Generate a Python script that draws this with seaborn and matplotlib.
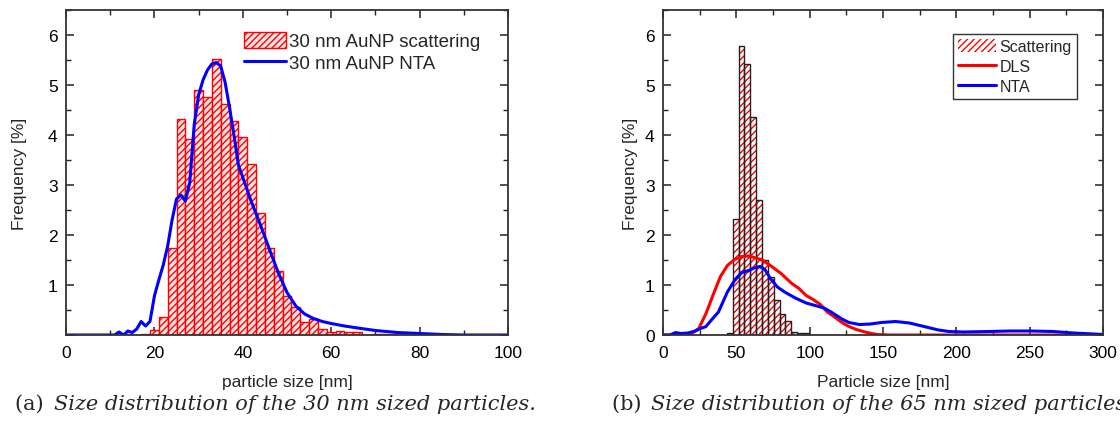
import numpy as np
import pandas as pd
import matplotlib
matplotlib.use("Agg")
import matplotlib.pyplot as plt
import seaborn as sns
from matplotlib.patches import Patch
from matplotlib.lines import Line2D
from matplotlib.ticker import MultipleLocator

# ---------------- data: (a) 30 nm particles ----------------
a_bin_centers = [14, 16, 18, 20, 22, 24, 26, 28, 30, 32, 34, 36, 38, 40, 42, 44, 46, 48,
                 50, 52, 54, 56, 58, 60, 62, 64, 66, 68, 70, 72, 74, 76, 78, 80, 82, 84,
                 86, 88, 90, 92]
a_scatter_freq = [0.02, 0.0, 0.02, 0.10, 0.36, 1.74, 4.33, 3.92, 4.90, 4.77, 5.52, 4.62,
                  4.28, 3.96, 3.42, 2.45, 1.74, 1.28, 0.79, 0.57, 0.27, 0.32, 0.12, 0.07,
                  0.09, 0.07, 0.06, 0.0, 0.02, 0.02, 0.02, 0.0, 0.0, 0.0, 0.0, 0.0,
                  0.0, 0.0, 0.0, 0.01]
a_nta_size = [0, 5, 10, 11, 12, 13, 14, 15, 16, 17, 18, 19, 20, 21, 22, 23, 24, 25, 26,
              27, 28, 29, 30, 31, 32, 33, 34, 35, 36, 37, 38, 39, 40, 41, 42, 44, 46,
              48, 50, 52, 54, 56, 58, 60, 63, 66, 70, 75, 80, 85, 90, 100]
a_nta_freq = [0, 0, 0, 0.0, 0.06, 0.0, 0.08, 0.05, 0.12, 0.27, 0.18, 0.27, 0.78, 1.10,
              1.40, 1.78, 2.30, 2.72, 2.80, 2.68, 3.05, 4.20, 4.80, 5.10, 5.30, 5.42,
              5.45, 5.38, 5.05, 4.55, 4.00, 3.40, 3.15, 2.90, 2.65, 2.20, 1.72, 1.25,
              0.85, 0.58, 0.42, 0.33, 0.27, 0.23, 0.18, 0.14, 0.09, 0.05, 0.03, 0.01,
              0.0, 0.0]

# ---------------- data: (b) 65 nm particles ----------------
b_bin_centers = [45.5, 49.5, 53.5, 57.5, 61.5, 65.5, 69.5, 73.5, 77.5, 81.5, 85.5,
                 89.5, 93.5, 97.5]
b_scatter_freq = [0.05, 2.33, 5.78, 5.43, 4.37, 2.70, 1.50, 1.17, 0.70, 0.43, 0.28,
                  0.07, 0.04, 0.04]
b_dls_size = [0, 10, 19.5, 24.4, 29.3, 34, 39, 43.9, 48.8, 53.7, 58.5, 63.4, 68.3, 73.2,
              80.5, 87.8, 92.7, 97.6, 102.4, 107.3, 112, 117, 122, 126.8, 131.7, 139,
              146, 155, 200, 250, 300]
b_dls_freq = [0, 0, 0.03, 0.13, 0.43, 0.79, 1.16, 1.39, 1.51, 1.57, 1.58, 1.54, 1.49,
              1.39, 1.23, 1.03, 0.93, 0.79, 0.71, 0.61, 0.46, 0.36, 0.25, 0.17, 0.11,
              0.05, 0.01, 0, 0, 0, 0]
b_nta_size = [0, 4.9, 8.5, 12.2, 17, 22, 25.6, 29.3, 33, 37.8, 43.9, 48.8, 53.7, 58.5,
              62.2, 65.9, 69.5, 73.2, 78, 82.9, 90.2, 97.6, 104.9, 109.8, 114.6, 122,
              126.8, 134, 141.5, 148.8, 158.5, 168, 178, 187.8, 195, 205, 222, 236.6,
              251, 266, 280, 300]
b_nta_freq = [0, 0, 0.05, 0.03, 0.04, 0.08, 0.13, 0.17, 0.30, 0.46, 0.86, 1.09, 1.25,
              1.29, 1.34, 1.37, 1.31, 1.13, 0.96, 0.86, 0.74, 0.64, 0.58, 0.54, 0.46,
              0.32, 0.25, 0.21, 0.22, 0.25, 0.27, 0.24, 0.17, 0.10, 0.07, 0.06, 0.07,
              0.08, 0.08, 0.07, 0.04, 0.01]

a_xticks = [0, 20, 40, 60, 80, 100]
a_yticks = [1, 2, 3, 4, 5, 6]
b_xticks = [0, 50, 100, 150, 200, 250, 300]
b_yticks = [0, 1, 2, 3, 4, 5, 6]

# ---------------- style ----------------
sns.set_theme(style="ticks")
plt.rcParams["font.family"] = ["Liberation Sans", "DejaVu Sans"]
plt.rcParams["hatch.linewidth"] = 1.0
plt.rcParams["axes.edgecolor"] = "#333333"
plt.rcParams["axes.linewidth"] = 1.3

fig = plt.figure(figsize=(11.2, 4.39), dpi=100)
ax1 = fig.add_axes([66 / 1120, 1 - 336 / 439, 442 / 1120, 325 / 439])
ax2 = fig.add_axes([663 / 1120, 1 - 336 / 439, 440 / 1120, 325 / 439])

# (a)
dfa = pd.DataFrame({"size": a_bin_centers, "freq": a_scatter_freq})
sns.histplot(data=dfa, x="size", weights="freq", binwidth=2,
             binrange=(min(a_bin_centers) - 1, max(a_bin_centers) + 1),
             stat="count", ax=ax1, facecolor="#ffe4e4", edgecolor="red",
             linewidth=1.0, hatch="/////", alpha=1)
dfa_nta = pd.DataFrame({"size": a_nta_size, "freq": a_nta_freq})
sns.lineplot(data=dfa_nta, x="size", y="freq", ax=ax1, color="#0000ff", lw=2.2,
             estimator=None, sort=False)

# (b)
dfb = pd.DataFrame({"size": b_bin_centers, "freq": b_scatter_freq})
brange = (min(b_bin_centers) - 2, max(b_bin_centers) + 2)
sns.histplot(data=dfb, x="size", weights="freq", binwidth=4, binrange=brange,
             stat="count", ax=ax2, facecolor="white", edgecolor="red",
             linewidth=0, hatch="/////", alpha=1)
sns.histplot(data=dfb, x="size", weights="freq", binwidth=4, binrange=brange,
             stat="count", ax=ax2, fill=False, color="#222222", linewidth=1.0)
dfb_dls = pd.DataFrame({"size": b_dls_size, "freq": b_dls_freq})
sns.lineplot(data=dfb_dls, x="size", y="freq", ax=ax2, color="#ff0000", lw=2.2,
             estimator=None, sort=False)
dfb_nta = pd.DataFrame({"size": b_nta_size, "freq": b_nta_freq})
sns.lineplot(data=dfb_nta, x="size", y="freq", ax=ax2, color="#0000ff", lw=2.2,
             estimator=None, sort=False)

for ax in (ax1, ax2):
    ax.set_ylim(0, 6.5)
    ax.tick_params(axis="both", which="both", direction="in", top=True, right=True,
                   labelsize=12.5, colors="#222222", labelcolor="black")
    ax.tick_params(which="major", length=6, width=1.1)
    ax.tick_params(which="minor", length=3.5, width=1.0)
    ax.tick_params(axis="x", pad=7)
    ax.tick_params(axis="y", pad=6)
    ax.yaxis.set_minor_locator(MultipleLocator(0.5))
    for s in ax.spines.values():
        s.set_visible(True)

ax1.set_xlim(0, 100)
ax1.set_xticks(a_xticks)
ax1.set_yticks([0] + a_yticks)
ax1.set_yticklabels([""] + [str(v) for v in a_yticks])
ax1.xaxis.set_minor_locator(MultipleLocator(10))
ax1.set_xlabel("particle size [nm]", fontsize=12.5, labelpad=10)
ax1.set_ylabel("Frequency [%]", fontsize=12.5, labelpad=15)

ax2.set_xlim(0, 300)
ax2.set_xticks(b_xticks)
ax2.set_yticks(b_yticks)
ax2.xaxis.set_minor_locator(MultipleLocator(25))
ax2.set_xlabel("Particle size [nm]", fontsize=12.5, labelpad=10)
ax2.set_ylabel("Frequency [%]", fontsize=12.5, labelpad=5)

# legends
h1 = [Patch(facecolor="#ffe4e4", edgecolor="red", hatch="/////", linewidth=1.0),
      Line2D([0], [0], color="#0000ff", lw=2.2)]
ax1.legend(h1, ["30 nm AuNP scattering", "30 nm AuNP NTA"], loc="upper right",
           bbox_to_anchor=(0.955, 0.955), frameon=False, fontsize=13.5,
           handlelength=2.2, handleheight=0.9, handletextpad=0.2, labelspacing=0.2,
           borderaxespad=0.2, borderpad=0.2)

h2 = [Patch(facecolor="white", edgecolor="red", hatch="/////", linewidth=0),
      Line2D([0], [0], color="#ff0000", lw=2.2),
      Line2D([0], [0], color="#0000ff", lw=2.2)]
leg2 = ax2.legend(h2, ["Scattering", "DLS", "NTA"], loc="upper right",
                  bbox_to_anchor=(0.94, 0.925), frameon=True, fontsize=11.5,
                  handlelength=2.4, handleheight=0.9, handletextpad=0.2,
                  labelspacing=0.3, borderpad=0.3, fancybox=False, borderaxespad=0)
leg2.get_frame().set_edgecolor("black")
leg2.get_frame().set_linewidth(1.0)

# captions
caps = []
for x0, lab, txt in [(15, "(a) ", "Size distribution of the 30 nm sized particles."),
                     (612, "(b) ", "Size distribution of the 65 nm sized particles.")]:
    t = fig.text(x0 / 1120, 1 - 410 / 439, lab, fontsize=15, family="DejaVu Serif",
                 va="baseline", ha="left")
    t2 = fig.text(x0 / 1120, 1 - 410 / 439, txt, fontsize=15, family="DejaVu Serif",
                  style="italic", va="baseline", ha="left")
    caps.append((t, t2))

fig.canvas.draw()
r = fig.canvas.get_renderer()
for t, t2 in caps:
    bb = t.get_window_extent(r)
    x, y = t2.get_position()
    t2.set_position((bb.x1 / fig.bbox.width + 0.003, y))

fig.savefig("out.png", dpi=100)
